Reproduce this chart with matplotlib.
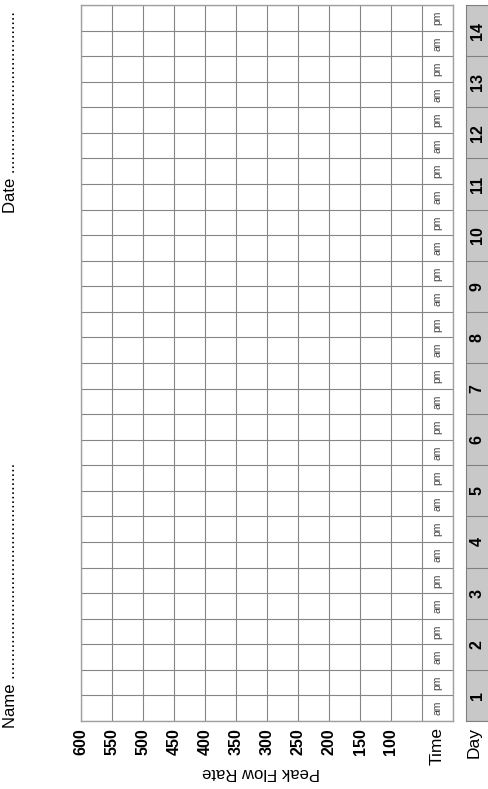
import matplotlib
matplotlib.use("Agg")
import matplotlib.pyplot as plt

plt.rcParams['font.family'] = ['Liberation Sans', 'DejaVu Sans']
narrow = ['Liberation Sans Narrow', 'Liberation Sans']

# chart data
flow_ticks = [600, 550, 500, 450, 400, 350, 300, 250, 200, 150, 100]
days = list(range(1, 15))
times = ['am', 'pm']

W, H = 488, 789
fig = plt.figure(figsize=(W / 100, H / 100), dpi=100)

# main grid (flow rate across, readings up)
ax = fig.add_axes([81 / W, 68 / H, 372 / W, 716 / H])
ax.set_xlim(600, 0)
ax.set_ylim(0, len(days) * len(times))
grid_x = list(range(600, -1, -50))
ax.set_xticks(grid_x)
ax.set_xticklabels([str(v) if v in flow_ticks else '' for v in grid_x],
                   rotation=90, fontweight='bold', fontsize=11.5)
ax.set_yticks(range(0, len(days) * len(times) + 1))
ax.set_yticklabels([])
ax.tick_params(length=0, pad=5)
ax.grid(True, color='#858585', linewidth=0.8)
for s in ax.spines.values():
    s.set_color('#a0a0a0')
    s.set_linewidth(1.0)

# am / pm labels in the time column
row = 0
for d in days:
    for t in times:
        ax.text(25, row + 0.5, t, rotation=90, ha='center', va='center',
                fontsize=7.5, color='#444444', family=narrow)
        row += 1

ax.text(25, -0.25, 'Time', rotation=90, ha='center', va='top', fontsize=12.5)
ax.text(310, -2.0, 'Peak Flow Rate', rotation=180, ha='center', va='center', fontsize=12)

# day column
axd = fig.add_axes([466 / W, 68 / H, 24 / W, 716 / H])
axd.set_xlim(0, 1)
axd.set_ylim(0, len(days) * len(times))
axd.set_facecolor('#c8c8c8')
axd.set_xticks([])
axd.set_yticks(range(0, len(days) * len(times) + 1, 2))
axd.set_yticklabels([])
axd.tick_params(length=0)
axd.grid(True, axis='y', color='#808080', linewidth=0.8)
for s in axd.spines.values():
    s.set_color('#808080')
for i, d in enumerate(days):
    axd.text(0.46, i * 2 + 1, str(d), rotation=90, ha='center', va='center',
             fontsize=11.5, fontweight='bold')
axd.text(0.33, -0.25, 'Day', rotation=90, ha='center', va='top', fontsize=12.5)

# name / date lines
fig.text(11 / W, (H - 728) / H, 'Name ' + '.' * 48, rotation=90,
         ha='center', va='bottom', fontsize=12, family=narrow)
fig.text(11 / W, (H - 213) / H, 'Date ' + '.' * 36, rotation=90,
         ha='center', va='bottom', fontsize=12, family=narrow)

fig.savefig('out.png', dpi=100)
